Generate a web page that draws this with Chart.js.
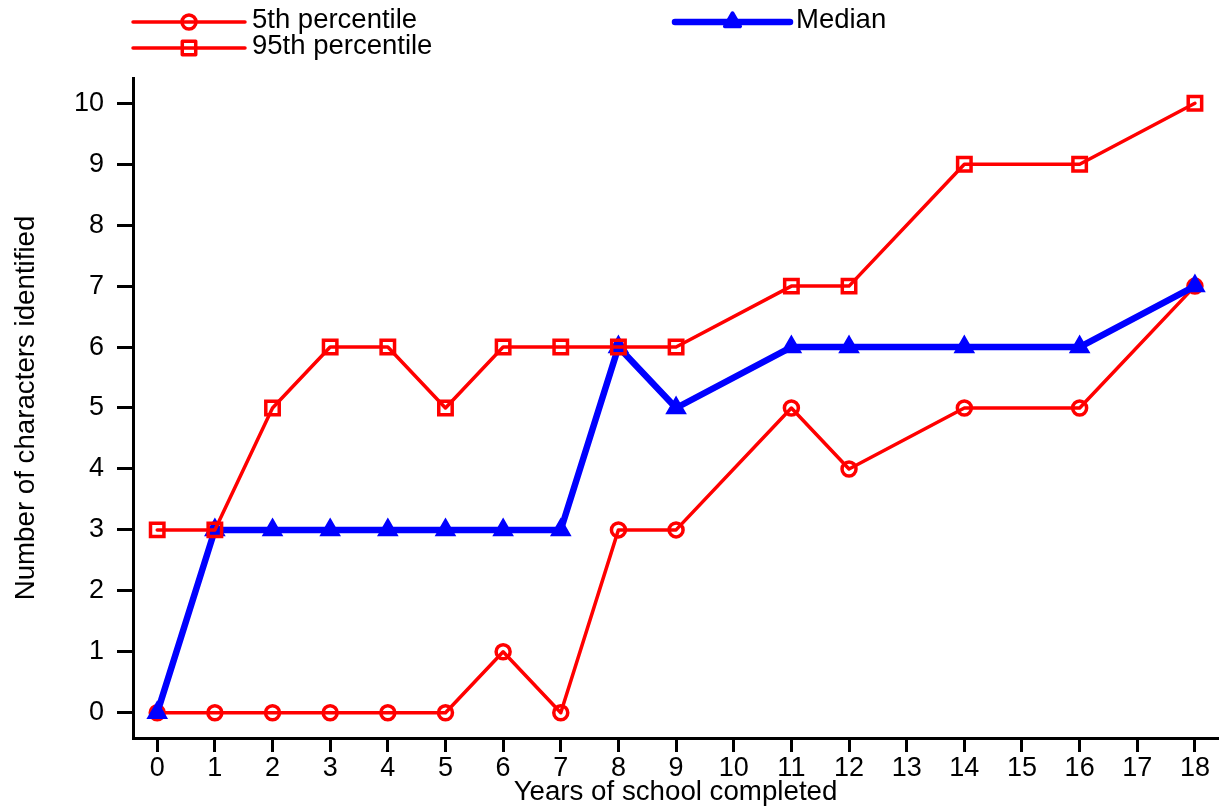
<!DOCTYPE html>
<html>
<head>
<meta charset="utf-8">
<script src="https://cdn.jsdelivr.net/npm/chart.js@4"></script>
<style>
  html, body { margin: 0; padding: 0; background: #fff; }
  #wrap { width: 1220px; height: 811px; }
</style>
</head>
<body>
<div id="wrap"><canvas id="c" width="1220" height="811"></canvas></div>
<script>
// ---- data ----
const years = [0, 1, 2, 3, 4, 5, 6, 7, 8, 9, 11, 12, 14, 16, 18];
const p5 = [0, 0, 0, 0, 0, 0, 1, 0, 3, 3, 5, 4, 5, 5, 7];
const p95 = [3, 3, 5, 6, 6, 5, 6, 6, 6, 6, 7, 7, 9, 9, 10];
const median = [0, 3, 3, 3, 3, 3, 3, 3, 6, 5, 6, 6, 6, 6, 7];
const xTickValues = [0, 1, 2, 3, 4, 5, 6, 7, 8, 9, 10, 11, 12, 13, 14, 15, 16, 17, 18];
const yTickValues = [0, 1, 2, 3, 4, 5, 6, 7, 8, 9, 10];
const xTitle = 'Years of school completed';
const yTitle = 'Number of characters identified';
const seriesNames = ['5th percentile', '95th percentile', 'Median'];

const FONT = '"Liberation Sans", Arial, sans-serif';
const toXY = (vals) => years.map((x, i) => ({ x: x, y: vals[i] }));

const ds5 = {
  label: seriesNames[0], data: toXY(p5),
  borderColor: '#ff0000', borderWidth: 3.5,
  pointStyle: 'circle', pointRadius: 7, pointBorderWidth: 3.5,
  pointBackgroundColor: 'rgba(0,0,0,0)', pointBorderColor: '#ff0000',
  order: 2, tension: 0, clip: false
};
const ds95 = {
  label: seriesNames[1], data: toXY(p95),
  borderColor: '#ff0000', borderWidth: 3.5,
  pointStyle: 'rect', pointRadius: 9.5, pointBorderWidth: 3.5,
  pointBackgroundColor: 'rgba(0,0,0,0)', pointBorderColor: '#ff0000',
  order: 0, tension: 0, clip: false
};
const dsMed = {
  label: seriesNames[2], data: toXY(median),
  borderColor: '#0000ff', borderWidth: 6.5,
  pointStyle: 'triangle', pointRadius: 9, pointBorderWidth: 3.5,
  pointBackgroundColor: '#0000ff', pointBorderColor: '#0000ff',
  order: 1, tension: 0, clip: false
};

// custom legend drawn on canvas
const legendPlugin = {
  id: 'customLegend',
  afterDraw(chart) {
    const ctx = chart.ctx;
    const items = [
      { ds: ds5, x0: 133, x1: 245, y: 22, tx: 252 },
      { ds: ds95, x0: 133, x1: 245, y: 48, tx: 252 },
      { ds: dsMed, x0: 675, x1: 790, y: 22, tx: 796 }
    ];
    items.forEach(it => {
      ctx.save();
      ctx.strokeStyle = it.ds.borderColor;
      ctx.lineWidth = it.ds.borderWidth;
      ctx.lineCap = 'round';
      ctx.beginPath();
      ctx.moveTo(it.x0, it.y);
      ctx.lineTo(it.x1, it.y);
      ctx.stroke();
      ctx.strokeStyle = it.ds.pointBorderColor;
      ctx.fillStyle = it.ds.pointBackgroundColor;
      ctx.lineWidth = it.ds.pointBorderWidth;
      ctx.lineCap = 'butt';
      ctx.lineJoin = 'round';
      Chart.helpers.drawPoint(ctx, { pointStyle: it.ds.pointStyle, radius: it.ds.pointRadius, rotation: 0, borderWidth: it.ds.pointBorderWidth }, (it.x0 + it.x1) / 2, it.y);
      ctx.fillStyle = '#000';
      ctx.font = '27.5px ' + FONT;
      ctx.textBaseline = 'middle';
      ctx.textAlign = 'left';
      ctx.fillText(it.ds.label, it.tx, it.y - 2);
      ctx.restore();
    });
  }
};

new Chart(document.getElementById('c'), {
  type: 'line',
  data: { datasets: [ds5, ds95, dsMed] },
  options: {
    responsive: false,
    animation: false,
    events: [],
    layout: { autoPadding: false, padding: { top: 78, right: 2, left: 0, bottom: 0 } },
    plugins: { legend: { display: false }, tooltip: { enabled: false } },
    elements: { line: { borderJoinStyle: 'round', borderCapStyle: 'round' } },
    scales: {
      x: {
        type: 'linear',
        min: -0.42, max: 18.4,
        afterBuildTicks: (s) => { s.ticks = xTickValues.map(v => ({ value: v })); },
        afterFit: (s) => { s.height = 73; s.paddingRight = 0; s.paddingLeft = 0; },
        ticks: { color: '#000', font: { family: FONT, size: 27 }, padding: 0, maxRotation: 0, autoSkip: false },
        grid: { drawOnChartArea: false, drawTicks: true, tickLength: 14, tickWidth: 3, tickColor: '#000' },
        border: { display: true, color: '#000', width: 3 },
        title: { display: true, text: xTitle, color: '#000', font: { family: FONT, size: 27.7 }, padding: { top: 0, bottom: 2 } }
      },
      y: {
        type: 'linear',
        min: -0.415, max: 10.415,
        afterBuildTicks: (s) => { s.ticks = yTickValues.map(v => ({ value: v })); },
        afterFit: (s) => { s.width = 133; },
        ticks: { color: '#000', font: { family: FONT, size: 27 }, padding: 13, autoSkip: false },
        grid: { drawOnChartArea: false, drawTicks: true, tickLength: 16, tickWidth: 3, tickColor: '#000' },
        border: { display: true, color: '#000', width: 3 },
        title: { display: true, text: yTitle, color: '#000', font: { family: FONT, size: 27.7 }, padding: { top: 10, bottom: 0 } }
      }
    }
  },
  plugins: [legendPlugin]
});
</script>
</body>
</html>
